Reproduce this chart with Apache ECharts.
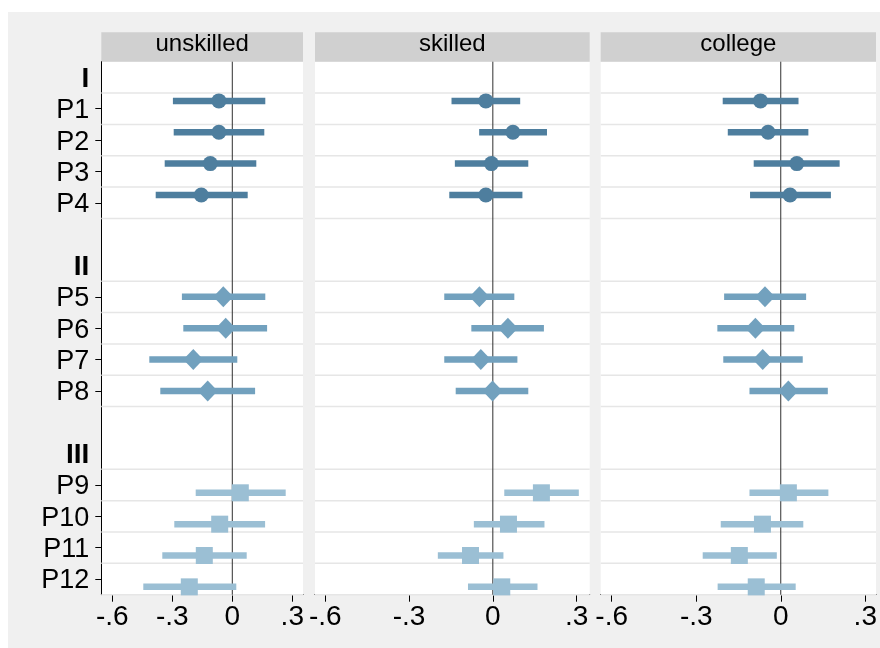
<!DOCTYPE html>
<html>
<head>
<meta charset="utf-8">
<script src="https://cdn.jsdelivr.net/npm/echarts@6/dist/echarts.min.js"></script>
<style>
html,body{margin:0;padding:0;background:#fff;}
#bg{position:absolute;left:8px;top:12px;width:872px;height:636px;background:#f0f0f0;}
#c{position:absolute;left:0;top:0;width:880px;height:648px;}
</style>
</head>
<body>
<div id="bg"></div>
<div id="c"></div>
<script>
// ---- data ----
const panels = ['unskilled', 'skilled', 'college'];
const yLabels = ['I', 'P1', 'P2', 'P3', 'P4', '', 'II', 'P5', 'P6', 'P7', 'P8', '', 'III', 'P9', 'P10', 'P11', 'P12'];
const groupHeaders = ['I', 'II', 'III'];
const xTicks = [-0.6, -0.3, 0, 0.3];

const unskilledEst = [-0.067, -0.067, -0.110, -0.155, -0.045, -0.033, -0.195, -0.123, 0.040, -0.063, -0.140, -0.215];
const unskilledLo  = [-0.297, -0.293, -0.338, -0.383, -0.252, -0.245, -0.415, -0.360, -0.183, -0.290, -0.350, -0.445];
const unskilledHi  = [ 0.165,  0.160,  0.120,  0.077,  0.165,  0.174,  0.025,  0.114,  0.267,  0.164,  0.072,  0.020];

const skilledEst = [-0.025, 0.072, -0.005, -0.025, -0.048, 0.054, -0.043, -0.001, 0.174, 0.056, -0.080, 0.032];
const skilledLo  = [-0.148, -0.049, -0.136, -0.156, -0.174, -0.077, -0.174, -0.133, 0.041, -0.068, -0.197, -0.089];
const skilledHi  = [ 0.098, 0.194, 0.127, 0.106, 0.077, 0.183, 0.088, 0.127, 0.308, 0.185, 0.038, 0.160];

const collegeEst = [-0.072, -0.045, 0.057, 0.033, -0.056, -0.090, -0.064, 0.027, 0.027, -0.065, -0.147, -0.087];
const collegeLo  = [-0.206, -0.188, -0.096, -0.109, -0.201, -0.225, -0.204, -0.111, -0.111, -0.213, -0.277, -0.224];
const collegeHi  = [ 0.063, 0.098, 0.209, 0.178, 0.090, 0.048, 0.078, 0.167, 0.169, 0.080, -0.014, 0.053];

// ---- styling / layout ----
const FONT = 'Liberation Sans, Arial, Helvetica, sans-serif';
const groupColors = ['#4e7e9e', '#72a1be', '#9bbfd4'];
const groupSymbols = ['circle', 'diamond', 'rect'];
const groupSymbolSizes = [15, [20, 21], 17];
const groupShift = [-0.25, 0, 0.25];
const gridBoxes = [
  {left: 101.3, width: 201.7},
  {left: 315.0, width: 274.7},
  {left: 600.7, width: 275.3}
];
const gridTop = 61.7, gridHeight = 533;
const xMins = [-0.655, -0.637, -0.639];
const xMaxs = [0.3535, 0.347, 0.338];
const yMin = -1.5, yMax = 15.5;

const est = [unskilledEst, skilledEst, collegeEst];
const lo = [unskilledLo, skilledLo, collegeLo];
const hi = [unskilledHi, skilledHi, collegeHi];

// row positions derived from label list
const rows = [];
let g = -1;
yLabels.forEach((lab, idx) => {
  const pos = idx - 1;
  if (groupHeaders.includes(lab)) g++;
  else if (lab !== '') rows.push({pos: pos, group: g, label: lab});
});
const tickPos = rows.map(r => r.pos);
const labelPos = yLabels.map((l, i) => l === '' ? null : i - 1).filter(v => v !== null);
const gridLineSet = new Set();
rows.forEach(r => { gridLineSet.add(r.pos - 0.5); gridLineSet.add(r.pos + 0.5); });
const gridLines = Array.from(gridLineSet).sort((a, b) => a - b);

function fmtX(v) {
  if (Math.abs(v) < 1e-9) return '0';
  const s = String(Math.round(Math.abs(v) * 10) / 10).replace(/^0/, '');
  return (v < 0 ? '-' : '') + s;
}

const grid = [], xAxis = [], yAxis = [], series = [], graphic = [];
panels.forEach((name, p) => {
  const gb = gridBoxes[p];
  grid.push({left: gb.left, top: gridTop, width: gb.width, height: gridHeight,
    show: true, backgroundColor: '#fff', borderWidth: 0, containLabel: false});
  xAxis.push({
    gridIndex: p, type: 'value', min: xMins[p], max: xMaxs[p],
    axisLine: {show: true, onZero: false, lineStyle: {color: '#000', width: 1}},
    axisTick: {show: true, length: 7, customValues: xTicks, lineStyle: {color: '#000', width: 1}},
    axisLabel: {customValues: xTicks, formatter: fmtX, fontSize: 28, color: '#000', fontFamily: FONT, margin: 9},
    splitLine: {show: false}
  });
  yAxis.push({
    gridIndex: p, type: 'value', min: yMin, max: yMax, inverse: true,
    axisLine: {show: p === 0, onZero: false, lineStyle: {color: '#000', width: 1}},
    axisTick: {show: p === 0, length: 6, customValues: tickPos, lineStyle: {color: '#000', width: 1}},
    axisLabel: {
      show: p === 0, customValues: labelPos, margin: 12, fontSize: 27, color: '#000', fontFamily: FONT,
      padding: [4, 0, 0, 0],
      formatter: v => {
        const lab = yLabels[Math.round(v) + 1];
        return groupHeaders.includes(lab) ? '{b|' + lab + '}' : lab;
      },
      rich: {b: {fontWeight: 'bold', fontSize: 28, color: '#000', fontFamily: FONT}}
    },
    splitLine: {show: false}
  });
  series.push({
    type: 'custom', xAxisIndex: p, yAxisIndex: p, z: 1, silent: true, animation: false,
    data: gridLines.map(v => [0, v]), encode: {x: 0, y: 1},
    renderItem: (params, api) => {
      const y = api.value(1);
      const a = api.coord([xMins[p], y]), b = api.coord([xMaxs[p], y]);
      return {type: 'line', shape: {x1: a[0], y1: a[1], x2: b[0], y2: b[1]},
        style: {stroke: '#e6e6e6', lineWidth: 1.5}};
    }
  });
  series.push({
    type: 'custom', xAxisIndex: p, yAxisIndex: p, z: 2, silent: true, animation: false,
    data: [[0, yMin]], encode: {x: 0, y: 1},
    renderItem: (params, api) => {
      const a = api.coord([api.value(0), yMin]), b = api.coord([api.value(0), yMax]);
      return {type: 'line', shape: {x1: a[0], y1: a[1], x2: b[0], y2: b[1]},
        style: {stroke: '#303030', lineWidth: 1}};
    }
  });
  [0, 1, 2].forEach(gi => {
    const idxs = rows.map((r, i) => r.group === gi ? i : -1).filter(i => i >= 0);
    series.push({
      type: 'custom', xAxisIndex: p, yAxisIndex: p, z: 3, silent: true, animation: false,
      data: idxs.map(i => [lo[p][i], hi[p][i], rows[i].pos + groupShift[gi]]),
      encode: {x: [0, 1], y: 2},
      renderItem: (params, api) => {
        const a = api.coord([api.value(0), api.value(2)]);
        const b = api.coord([api.value(1), api.value(2)]);
        return {type: 'line', shape: {x1: a[0], y1: a[1], x2: b[0], y2: b[1]},
          style: {stroke: groupColors[gi], lineWidth: 6.5, lineCap: 'butt'}};
      }
    });
    series.push({
      type: 'scatter', xAxisIndex: p, yAxisIndex: p, z: 4, silent: true, animation: false,
      symbol: groupSymbols[gi], symbolSize: groupSymbolSizes[gi],
      itemStyle: {color: groupColors[gi], opacity: 1},
      data: idxs.map(i => [est[p][i], rows[i].pos + groupShift[gi]])
    });
  });
  graphic.push({type: 'rect', shape: {x: gb.left, y: 32.3, width: gb.width, height: 29.4},
    style: {fill: '#d0d0d0'}, silent: true});
  graphic.push({type: 'text', x: gb.left + gb.width / 2, y: 44.5,
    style: {text: name, fill: '#000', font: '24px ' + FONT, textAlign: 'center', textVerticalAlign: 'middle'},
    silent: true});
});

const chart = echarts.init(document.getElementById('c'), null, {renderer: 'canvas'});
chart.setOption({
  backgroundColor: 'transparent',
  animation: false,
  grid, xAxis, yAxis, series, graphic
});
</script>
</body>
</html>
